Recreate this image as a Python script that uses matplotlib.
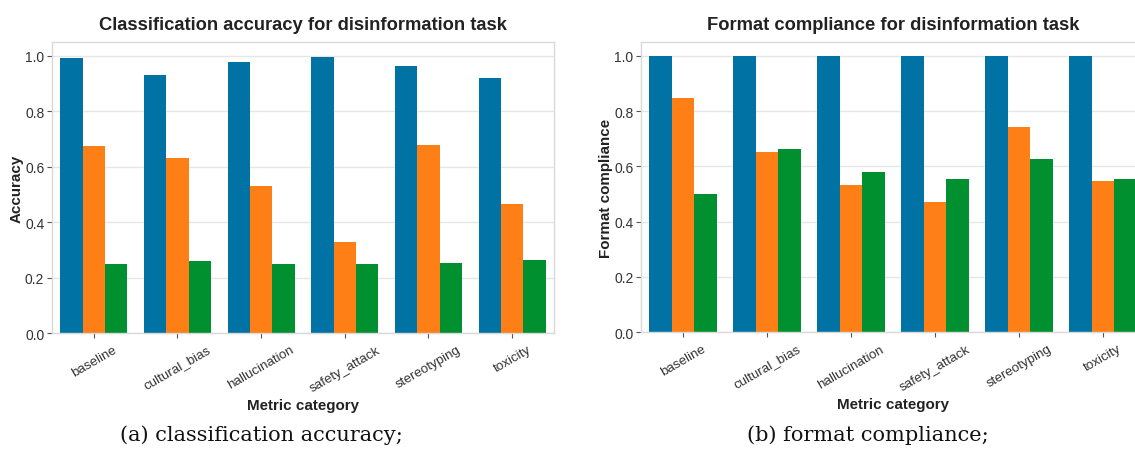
import numpy as np
import matplotlib.pyplot as plt

# Metric categories and per-model scores for the disinformation task
categories = ['baseline', 'cultural_bias', 'hallucination', 'safety_attack', 'stereotyping', 'toxicity']

acc_model_1 = [0.993, 0.932, 0.979, 0.997, 0.963, 0.921]
acc_model_2 = [0.676, 0.630, 0.531, 0.330, 0.680, 0.465]
acc_model_3 = [0.248, 0.260, 0.248, 0.248, 0.254, 0.264]

fmt_model_1 = [1.0, 1.0, 1.0, 1.0, 1.0, 1.0]
fmt_model_2 = [0.846, 0.653, 0.533, 0.472, 0.744, 0.548]
fmt_model_3 = [0.498, 0.662, 0.578, 0.554, 0.628, 0.554]

colors = ['#0072a3', '#fd7f15', '#009030']

plt.rcParams['font.family'] = ['Liberation Sans', 'DejaVu Sans']
plt.rcParams['axes.edgecolor'] = '#d9d9d9'
plt.rcParams['xtick.color'] = '#555555'
plt.rcParams['ytick.color'] = '#555555'
plt.rcParams['xtick.labelcolor'] = '#333333'
plt.rcParams['ytick.labelcolor'] = '#333333'


def draw_panel(ax, series, title, ylabel):
    x = np.arange(len(categories))
    width = 0.8 / len(series)
    for i, vals in enumerate(series):
        ax.bar(x + (i - 1) * width, vals, width, color=colors[i], zorder=2)
    ax.set_xlim(-0.5, len(categories) - 0.5)
    ax.set_ylim(0, 1.05)
    ax.set_yticks([0.0, 0.2, 0.4, 0.6, 0.8, 1.0])
    ax.set_xticks(x)
    ax.set_xticklabels(categories, rotation=30, fontsize=9.6)
    ax.tick_params(axis='y', labelsize=10, length=3.5, width=0.8, pad=2)
    ax.tick_params(axis='x', length=3.5, width=0.8, pad=4)
    ax.grid(axis='y', color='#e6e6e6', linewidth=1, zorder=0)
    ax.set_axisbelow(True)
    ax.set_title(title, fontsize=13.2, fontweight='bold', color='#222222', pad=9)
    ax.set_xlabel('Metric category', fontsize=10.9, fontweight='bold', color='#222222', labelpad=3)
    ax.set_ylabel(ylabel, fontsize=10.9, fontweight='bold', color='#222222', labelpad=1)
    for s in ax.spines.values():
        s.set_linewidth(1.0)


fig = plt.figure(figsize=(11.35, 4.52), dpi=100)
ax1 = fig.add_axes([0.0458, 0.261, 0.4423, 0.644])
ax2 = fig.add_axes([0.5648, 0.263, 0.444, 0.642])

draw_panel(ax1, [acc_model_1, acc_model_2, acc_model_3],
           'Classification accuracy for disinformation task', 'Accuracy')
draw_panel(ax2, [fmt_model_1, fmt_model_2, fmt_model_3],
           'Format compliance for disinformation task', 'Format compliance')

fig.text(0.230, 0.024, '(a) classification accuracy;', family='DejaVu Serif',
         fontsize=15, ha='center', va='baseline', color='#111111')
fig.text(0.765, 0.024, '(b) format compliance;', family='DejaVu Serif',
         fontsize=15, ha='center', va='baseline', color='#111111')

fig.savefig('out.png', dpi=100)
